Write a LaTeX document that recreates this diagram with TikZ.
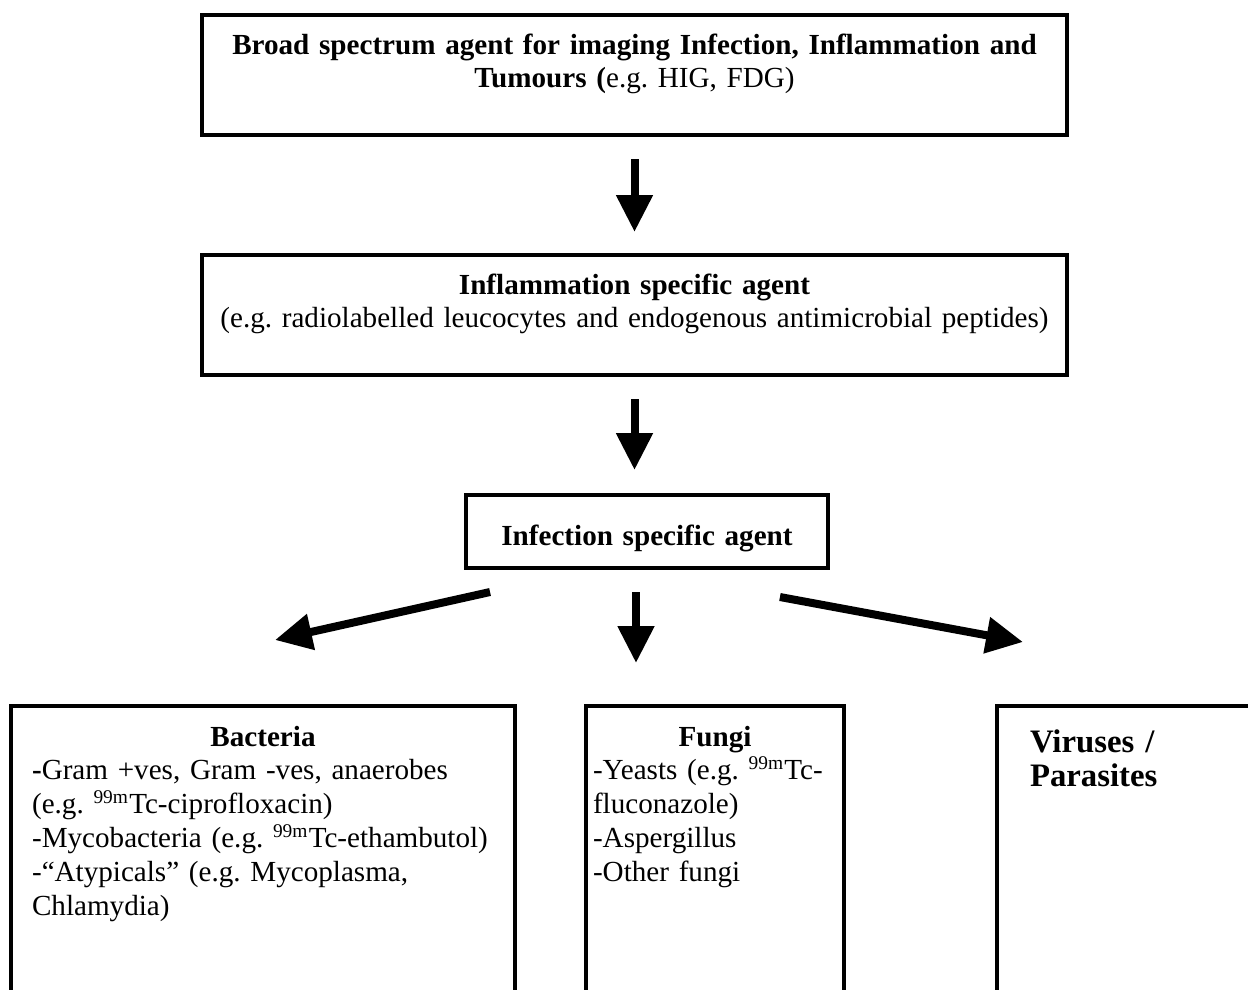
\documentclass[tikz,border=0pt]{standalone}
\usepackage{fontspec}
\setmainfont{Liberation Serif}
\usepackage{tikz}
\usetikzlibrary{arrows.meta}
\frenchspacing
\tikzset{
  box/.style={draw,line width=1.65pt,outer sep=0pt,inner xsep=0pt,inner ysep=0pt,anchor=north},
  arr/.style={-{Triangle[width=14.4pt,length=15.2pt]},line width=3.3pt},
}

\begin{document}
\begin{tikzpicture}[x=0.412pt,y=-0.412pt,font=\fontsize{12pt}{14pt}\selectfont]
\useasboundingbox (0,0) rectangle (1248,989);
\clip (0,0) rectangle (1248,989);
% agents, from broad to specific
\node[box,align=center,text width=356.4pt,text height=16.07pt,text depth=33.37pt] (broad) at (634.5,15)
  {\textbf{Broad spectrum agent for imaging Infection, Inflammation and}\\\textbf{Tumours (}e.g. HIG, FDG)};
\node[box,align=center,text width=356.4pt,text height=16.07pt,text depth=33.37pt] (inflam) at (634.5,255)
  {\textbf{Inflammation specific agent}\\(e.g. radiolabelled leucocytes and endogenous antimicrobial peptides)};
\node[box,align=center,text width=149.1pt,text height=20.6pt,text depth=9.48pt] (infect) at (647,495)
  {\textbf{Infection specific agent}};
% pathogen groups (boxes run off the page)
\node[box,align=left,inner xsep=8.65pt,text width=190.3pt,text height=16.48pt,text depth=108.8pt] (bact) at (263,706)
  {\centerline{\textbf{Bacteria}}
   \textbf{-}Gram +ves, Gram -ves, anaerobes\\
   (e.g. \textsuperscript{99m}Tc-ciprofloxacin)\\
   -Mycobacteria (e.g. \textsuperscript{99m}Tc-ethambutol)\\
   -“Atypicals” (e.g. Mycoplasma,\\
   Chlamydia)};
\node[box,align=left,inner xsep=2.88pt,text width=100.5pt,text height=16.48pt,text depth=108.8pt] (fungi) at (715,706)
  {\centerline{\textbf{Fungi}}
   -Yeasts (e.g. \textsuperscript{99m}Tc-\\
   fluconazole)\\
   -Aspergillus\\
   -Other fungi};
\node[box,anchor=north west,align=left,inner xsep=13.6pt,text width=93.5pt,text height=19.3pt,text depth=106.8pt,
  font=\fontsize{13.5pt}{14pt}\selectfont\bfseries] (virus) at (997,706)
  {Viruses /\\Parasites};
% arrows
\draw[arr,shorten <=9.9pt,shorten >=9.5pt] (broad) -- (inflam);
\draw[arr,shorten <=9.9pt,shorten >=10.3pt] (inflam) -- (inflam |- infect.north);
\draw[arr] ([shift={(24,24)}]infect.south west) -- ([shift={(12,-66)}]bact.north);
\draw[arr] ([shift={(-11,24)}]infect.south) -- ([shift={(-79,-43)}]fungi.north);
\draw[arr] ([shift={(-48,29)}]infect.south east) -- ([shift={(26,-64)}]virus.north west);
\end{tikzpicture}
\end{document}
